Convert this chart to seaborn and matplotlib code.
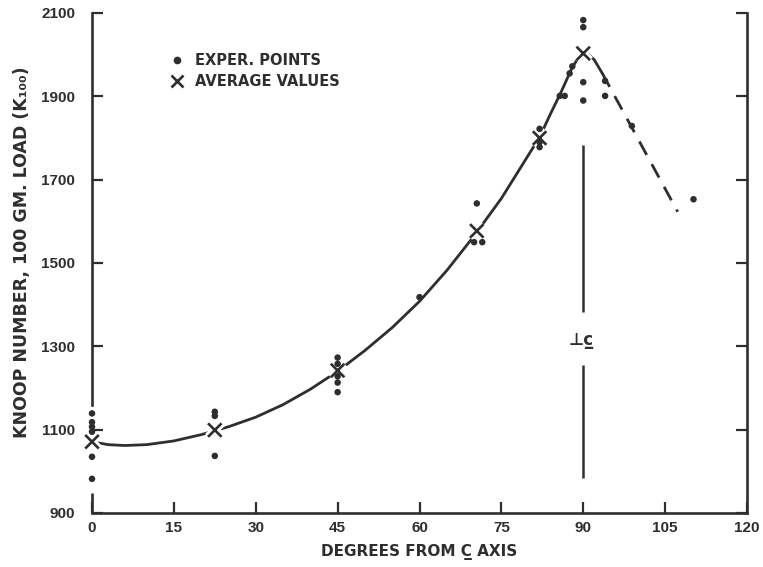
import matplotlib
matplotlib.use("Agg")
import matplotlib.pyplot as plt
import matplotlib.patheffects as pe
from matplotlib.lines import Line2D
import seaborn as sns

# ---- data ----
exp_x = [0, 0, 0, 0, 0, 0,
         22.5, 22.5, 22.5,
         45, 45, 45, 45, 45,
         60,
         70.5, 70, 71.5,
         82, 82, 82,
         85.7, 86.6, 87.5, 88,
         90, 90, 90, 90,
         94, 94,
         98.9, 110.2]
exp_y = [1139, 1118, 1107, 1095, 1035, 982,
         1143, 1133, 1037,
         1273, 1258, 1228, 1213, 1190,
         1418,
         1643, 1550, 1550,
         1822, 1790, 1778,
         1901, 1901, 1955, 1972,
         2083, 2066, 1934, 1890,
         1937, 1901,
         1829, 1653]

avg_x = [0, 22.5, 45, 70.5, 82, 90]
avg_y = [1071, 1099, 1242, 1577, 1800, 2003]

curve_x = [0, 3, 6, 10, 15, 20, 25, 30, 35, 40, 45, 50, 55, 60, 65, 70, 75,
           78, 80, 82, 84, 86, 88, 89, 90, 91, 92, 93.5]
curve_y = [1071, 1064, 1062, 1064, 1073, 1088, 1107, 1130, 1160, 1197, 1240,
           1290, 1345, 1408, 1482, 1565, 1655, 1718, 1760, 1802, 1858, 1912,
           1970, 1990, 2002, 2000, 1988, 1955]

dash_x = [93.5, 107.3]
dash_y = [1955, 1623]

perp_x = 90
perp_upper = [1383, 1783]
perp_lower = [984, 1255]
perp_label_y = 1315

x_ticks = [0, 15, 30, 45, 60, 75, 90, 105, 120]
y_ticks = [900, 1100, 1300, 1500, 1700, 1900, 2100]

# ---- style ----
sns.set_style("white")
plt.rcParams['font.family'] = ['DejaVu Sans']
ink = '#2e2e2e'

W, H = 763, 567
fig = plt.figure(figsize=(W / 100, H / 100), dpi=100)
ax = fig.add_axes([92 / W, (H - 513) / H, 655 / W, 500 / H])

ax.set_xlim(0, 120)
ax.set_ylim(900, 2100)

# fitted curve (solid) and extrapolated part (dashed)
sns.lineplot(x=curve_x, y=curve_y, ax=ax, color=ink, linewidth=2.0,
             sort=False, estimator=None, zorder=2)
sns.lineplot(x=dash_x, y=dash_y, ax=ax, color=ink, linewidth=2.0,
             sort=False, estimator=None, zorder=2, linestyle=(0, (5.5, 3.8)))

# perpendicular marker line at 90 deg
ax.vlines(perp_x, perp_upper[0], perp_upper[1], color=ink, linewidth=1.8, zorder=1)
ax.vlines(perp_x, perp_lower[0], perp_lower[1], color=ink, linewidth=1.8, zorder=1)
ax.text(perp_x - 0.4, perp_label_y, "\u22a5c\u0332", ha='center', va='center',
        fontsize=12, fontweight='bold', color=ink)

# average values (X) with white halo, then experimental points
sns.scatterplot(x=avg_x, y=avg_y, ax=ax, marker='x', s=95, color=ink,
                linewidth=1.9, zorder=3, clip_on=False,
                path_effects=[pe.withStroke(linewidth=6, foreground='white')])
sns.scatterplot(x=exp_x, y=exp_y, ax=ax, marker='o', s=22, color=ink,
                edgecolor='none', linewidth=0, zorder=4, clip_on=False)

# legend
handles = [
    Line2D([], [], marker='o', linestyle='none', color=ink, markersize=4.5),
    Line2D([], [], marker='x', linestyle='none', color=ink, markersize=9,
           markeredgewidth=1.9),
]
leg = ax.legend(handles, ["EXPER. POINTS", "AVERAGE VALUES"], loc='upper left',
                bbox_to_anchor=((170 - 92) / 655, 1 - (53 - 13) / 500),
                frameon=False, borderpad=0, borderaxespad=0, handlelength=1.0,
                handletextpad=0.7, labelspacing=0.4,
                prop={'size': 10.5, 'weight': 'bold'})
for t in leg.get_texts():
    t.set_color(ink)

# axes / spines
ax.spines['top'].set_visible(False)
for side in ['left', 'right', 'bottom']:
    ax.spines[side].set_visible(True)
    ax.spines[side].set_color(ink)
    ax.spines[side].set_linewidth(1.9)
ax.spines['left'].set_bounds(1160, 2100)
ax.plot([0, 0], [900, 948], color=ink, linewidth=1.9, clip_on=False,
        solid_capstyle='butt', zorder=5)

ax.set_xticks(x_ticks)
ax.set_yticks(y_ticks)
ax.set_xticklabels([str(v) for v in x_ticks])
ax.set_yticklabels([str(v) for v in y_ticks])
ax.tick_params(axis='both', direction='in', length=8, width=1.6, color=ink,
               labelcolor=ink, labelsize=11)
ax.tick_params(axis='y', left=True, right=True, pad=12)
ax.tick_params(axis='x', bottom=True, top=False, pad=6)
for lab in ax.get_xticklabels() + ax.get_yticklabels():
    lab.set_fontfamily(['Liberation Sans', 'DejaVu Sans'])
    lab.set_fontweight('bold')
ax.grid(False)

ax.set_xlabel("DEGREES FROM C\u0332 AXIS", fontsize=11, fontweight='bold',
              color=ink, labelpad=6)
ax.set_ylabel("")
fig.text(22 / W, 1 - 252 / H, "KNOOP NUMBER, 100 GM. LOAD (K\u2081\u2080\u2080)",
         rotation=90, ha='center', va='center', fontsize=12.5, fontweight='bold',
         color=ink)

fig.savefig("out.png", dpi=100, facecolor='white')
